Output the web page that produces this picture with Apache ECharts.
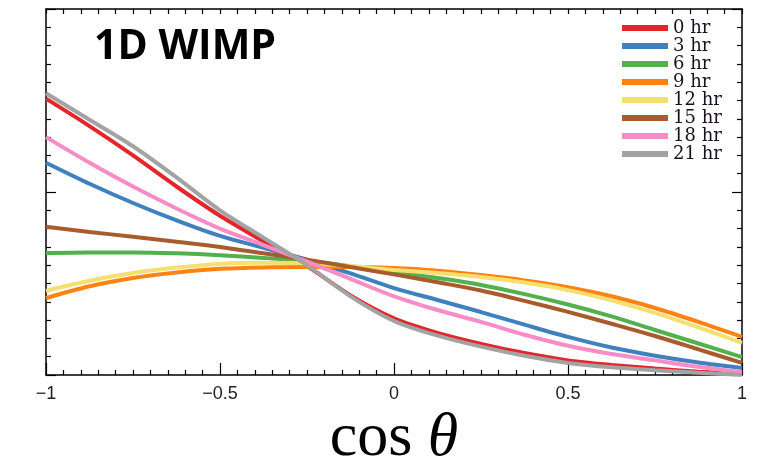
<!DOCTYPE html>
<html>
<head>
<meta charset="utf-8">
<script src="https://cdn.jsdelivr.net/npm/echarts@6/dist/echarts.min.js"></script>
<style>
  html, body { margin: 0; padding: 0; background: #fff; }
  #chart { width: 760px; height: 457px; }
</style>
</head>
<body>
<div id="chart"></div>
<script>
// cos(theta) sample points
const cosTheta = [-1, -0.875, -0.75, -0.625, -0.5, -0.375, -0.25, -0.125, 0,
    0.125, 0.25, 0.375, 0.5, 0.625, 0.75, 0.875, 1]

// one curve per time of day
const hr0 = [15.1, 13.6, 12.0, 10.3, 8.7, 7.3, 5.95, 4.35, 3.1, 2.3, 1.7, 1.2, 0.8, 0.55, 0.35, 0.18, 0.05]
const hr3 = [11.6, 10.45, 9.4, 8.45, 7.6, 6.95, 6.3, 5.55, 4.75, 4.1, 3.44, 2.75, 2.08, 1.5, 1.05, 0.68, 0.38]
const hr6 = [6.67, 6.7, 6.7, 6.65, 6.55, 6.4, 6.2, 5.95, 5.63, 5.3, 4.92, 4.42, 3.85, 3.2, 2.46, 1.72, 0.98]
const hr9 = [4.2, 4.85, 5.3, 5.6, 5.8, 5.88, 5.9, 5.9, 5.85, 5.7, 5.46, 5.17, 4.8, 4.3, 3.66, 2.9, 2.08]
const hr12 = [4.6, 5.15, 5.57, 5.87, 6.07, 6.13, 6.1, 5.95, 5.74, 5.57, 5.36, 5.05, 4.64, 4.08, 3.39, 2.6, 1.75]
const hr15 = [8.1, 7.82, 7.55, 7.28, 7.0, 6.65, 6.3, 5.9, 5.5, 5.07, 4.62, 4.05, 3.45, 2.8, 2.13, 1.4, 0.66]
const hr18 = [13.0, 11.6, 10.3, 9.1, 8.0, 7.1, 6.2, 5.25, 4.3, 3.55, 2.9, 2.2, 1.6, 1.15, 0.8, 0.45, 0.16]
const hr21 = [15.4, 13.95, 12.5, 10.8, 9.0, 7.5, 6.0, 4.3, 2.95, 2.15, 1.55, 1.05, 0.66, 0.42, 0.26, 0.12, 0.02]

const seriesNames = ['0 hr', '3 hr', '6 hr', '9 hr', '12 hr', '15 hr', '18 hr', '21 hr']
const seriesValues = [hr0, hr3, hr6, hr9, hr12, hr15, hr18, hr21]
const seriesColors = ['#e3262b', '#3f80bf', '#52b14d', '#ff8212', '#f3e070', '#a85c2e', '#f78cc6', '#a3a3a3']

const xTicks = [-1, -0.5, 0, 0.5, 1]

let myChart = echarts.init(document.getElementById('chart'))

function pairs (ys) {
    return cosTheta.map((x, i) => [x, ys[i]])
}

const axisLine = { show: true, onZero: false, lineStyle: { color: '#000', width: 1.5 } }
const tickStyle = { color: '#000', width: 1.2 }

let option = {
    animation: false,
    backgroundColor: '#fff',
    title: {
        text: '1D WIMP',
        left: 89,
        top: 22,
        textStyle: {
            fontFamily: 'Open Sans',
            fontWeight: 'bold',
            fontSize: 41,
            color: '#000'
        }
    },
    legend: {
        data: seriesNames,
        orient: 'vertical',
        left: 617,
        top: 14,
        icon: 'rect',
        itemWidth: 46,
        itemHeight: 6,
        itemGap: 0,
        textStyle: {
            fontFamily: 'DejaVu Serif',
            fontSize: 18,
            lineHeight: 18,
            color: '#1a1020'
        }
    },
    grid: {
        left: 46,
        right: 18,
        top: 9,
        bottom: 82,
        containLabel: false,
        outerBoundsMode: 'none'
    },
    xAxis: [
        {
            type: 'value',
            min: -1,
            max: 1,
            interval: 0.5,
            position: 'bottom',
            axisLine: axisLine,
            axisTick: { show: true, inside: true, length: 12, lineStyle: tickStyle },
            minorTick: { show: true, splitNumber: 10, length: 5, lineStyle: tickStyle },
            splitLine: { show: false },
            axisLabel: {
                margin: 10,
                fontFamily: 'Liberation Sans',
                fontSize: 18,
                color: '#222',
                formatter: function (v) {
                    return xTicks.indexOf(v) >= 0 ? String(v).replace('-', '\u2212') : ''
                }
            },
            name: '{c|cos}{t| θ}',
            nameLocation: 'middle',
            nameGap: 16,
            nameTextStyle: {
                rich: {
                    c: { fontFamily: 'Liberation Serif', fontSize: 62, color: '#000' },
                    t: { fontFamily: 'Liberation Serif', fontStyle: 'italic', fontSize: 62, color: '#000' }
                }
            }
        },
        {
            type: 'value',
            min: -1,
            max: 1,
            interval: 0.5,
            position: 'top',
            axisLine: axisLine,
            axisTick: { show: true, inside: true, length: 5, lineStyle: tickStyle },
            minorTick: { show: true, splitNumber: 10, length: 5, lineStyle: tickStyle },
            splitLine: { show: false },
            axisLabel: { show: false }
        }
    ],
    yAxis: [
        {
            type: 'value',
            min: 0,
            max: 20,
            interval: 10,
            position: 'left',
            axisLine: axisLine,
            axisTick: { show: true, inside: true, length: 10, lineStyle: tickStyle },
            minorTick: { show: true, splitNumber: 10, length: 5, lineStyle: tickStyle },
            splitLine: { show: false },
            axisLabel: { show: false }
        },
        {
            type: 'value',
            min: 0,
            max: 20,
            interval: 10,
            position: 'right',
            axisLine: axisLine,
            axisTick: { show: true, inside: true, length: 10, lineStyle: tickStyle },
            minorTick: { show: true, splitNumber: 10, length: 5, lineStyle: tickStyle },
            splitLine: { show: false },
            axisLabel: { show: false }
        }
    ],
    series: seriesNames.map((name, i) => ({
        name: name,
        type: 'line',
        xAxisIndex: 0,
        yAxisIndex: 0,
        data: pairs(seriesValues[i]),
        smooth: 0.3,
        showSymbol: false,
        color: seriesColors[i],
        lineStyle: { width: 4, color: seriesColors[i] },
        z: 2 + i
    }))
}

myChart.setOption(option)
</script>
</body>
</html>
